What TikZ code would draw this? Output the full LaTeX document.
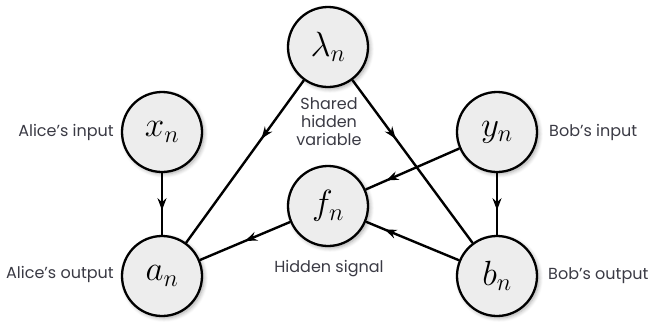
\documentclass[tikz,border=0pt]{standalone}
\usepackage{fix-cm}
\usepackage{fontspec}
\setsansfont{Poppins}
\usetikzlibrary{arrows.meta,decorations.markings,shadows.blur}
\definecolor{nodefill}{HTML}{EDEDED}
\definecolor{labelcol}{HTML}{3A3A44}
\tikzset{
  var/.style={circle, draw=black, line width=2.3pt, fill=nodefill, minimum size=80pt, inner sep=0pt,
    font=\fontsize{35}{40}\selectfont,
    blur shadow={shadow blur steps=6, shadow xshift=2pt, shadow yshift=-2pt, shadow opacity=35, shadow blur radius=4pt}},
  lab/.style={font=\sffamily\fontsize{16}{18}\selectfont, text=labelcol, inner sep=0pt, align=center},
  tipat/.style={decoration={markings, mark=at position #1 with {\arrow{Stealth[length=12pt,width=9pt,inset=4pt]}}}, postaction=decorate},
  conn/.style={line width=2.4pt, draw=black}
}
\begin{document}
\begin{tikzpicture}[x=1pt,y=-1pt]
\useasboundingbox (0,0) rectangle (660,322);
\node[var] (lam) at (328,47) {$\lambda_n$};
\node[var] (x) at (162,132) {$x_n$};
\node[var] (y) at (497,132) {$y_n$};
\node[var] (f) at (328,206) {$f_n$};
\node[var] (a) at (162,276) {$a_n$};
\node[var] (b) at (497,276) {$b_n$};

\node[lab, anchor=east] (la) at (114,132) {Alice's input};
\node[lab, anchor=east] (lao) at (114,274) {Alice's output};
\node[lab, anchor=west] (lb) at (549,132) {Bob's input};
\node[lab, anchor=west] (lbo) at (548,276) {Bob's output};
\node[lab] (lsh) at (329,122) {Shared\\hidden\\variable};
\node[lab] (lhs) at (329,269) {Hidden signal};

\draw[conn, tipat=0.36] (lam) -- (a);
\draw[conn, tipat=0.36] (lam) -- (b);
\draw[conn, tipat=0.6] (x) -- (a);
\draw[conn, tipat=0.6] (y) -- (b);
\draw[conn, tipat=0.78] (y) -- (f);
\draw[conn, tipat=0.8] (b) -- (f);
\draw[conn, tipat=0.5] (f) -- (a);
\end{tikzpicture}
\end{document}
